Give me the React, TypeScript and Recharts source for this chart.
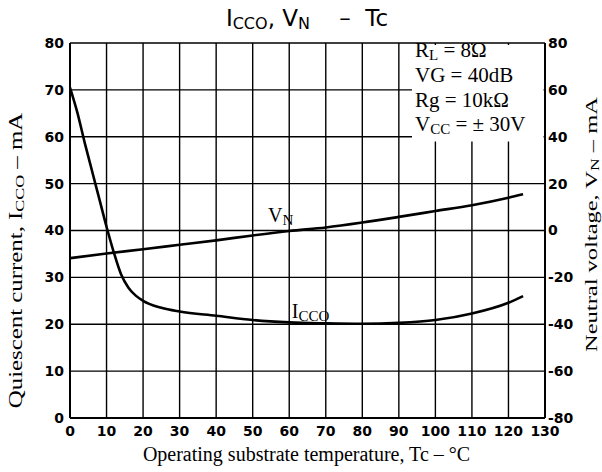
import {
  LineChart,
  Line,
  XAxis,
  YAxis,
  CartesianGrid,
  ReferenceArea,
  ReferenceDot,
  Label,
} from "recharts";

// ticks
const TEMP_TICKS = [0, 10, 20, 30, 40, 50, 60, 70, 80, 90, 100, 110, 120, 130];
const ICCO_TICKS = [0, 10, 20, 30, 40, 50, 60, 70, 80];
const VN_TICKS = [-80, -60, -40, -20, 0, 20, 40, 60, 80];

// quiescent current, mA (left axis)
const ICCO_TEMP = [0, 2, 4, 6, 8, 10, 12, 14, 16, 18, 20, 25, 30, 40, 50, 60, 70, 80, 90, 100, 110, 120, 124];
const ICCO_MA = [70.5, 65.2, 58.8, 52.8, 46.8, 40.8, 35.3, 30.6, 27.8, 26.1, 25.0, 23.5, 22.7, 21.8, 20.9, 20.4, 20.2, 20.1, 20.3, 20.9, 22.3, 24.6, 26.0];

// neutral voltage (right axis)
const VN_TEMP = [0, 10, 20, 30, 40, 50, 60, 70, 80, 90, 100, 110, 120, 124];
const VN_VALUES = [-11.8, -9.8, -8.0, -6.1, -4.2, -2.1, -0.2, 1.3, 3.4, 5.8, 8.3, 10.8, 14.0, 15.5];

const CONDITIONS = [
  { main: "R", sub: "L", rest: " = 8Ω" },
  { main: "VG = 40dB", sub: "", rest: "" },
  { main: "Rg = 10kΩ", sub: "", rest: "" },
  { main: "V", sub: "CC", rest: " = ± 30V" },
];

const iccoData = ICCO_TEMP.map((t, i) => ({ t, icco: ICCO_MA[i] }));
const vnData = VN_TEMP.map((t, i) => ({ t, vn: VN_VALUES[i] }));

const SERIF = "'Liberation Serif', 'DejaVu Serif', serif";
const SANS = "'DejaVu Sans', sans-serif";

const tickStyle = { fontFamily: SANS, fontSize: 14, fontWeight: "bold", fill: "#000" };
const axisLine = { stroke: "#000", strokeWidth: 2 };

// the scan is stretched along the vertical titles, so stretch them the same way
function VerticalTitle({ x, y, stretch, size, main, sub }: any) {
  return (
    <text
      transform={`translate(${x} ${y}) rotate(-90) scale(${stretch} 1)`}
      x={0}
      y={0}
      textAnchor="middle"
      dominantBaseline="central"
      fontFamily={SERIF}
      fontSize={size}
      fill="#000"
    >
      {main}
      <tspan fontSize={size * 0.72} dy={3}>
        {sub}
      </tspan>
      <tspan dy={-3}> – mA</tspan>
    </text>
  );
}

function LeftTitle(props: any) {
  const { viewBox } = props;
  return (
    <VerticalTitle
      x={viewBox.x + 16}
      y={viewBox.y + viewBox.height / 2 + 30}
      stretch={1.38}
      size={18}
      main="Quiescent current, I"
      sub="CCO"
    />
  );
}

function RightTitle(props: any) {
  const { viewBox } = props;
  return (
    <VerticalTitle
      x={viewBox.x + 46}
      y={viewBox.y + viewBox.height / 2 - 6}
      stretch={1.44}
      size={17}
      main="Neutral voltage, V"
      sub="N"
    />
  );
}

function BottomTitle(props: any) {
  const { viewBox } = props;
  return (
    <text
      x={viewBox.x + viewBox.width / 2 - 1}
      y={viewBox.y + 43}
      textAnchor="middle"
      fontFamily={SERIF}
      fontSize={20}
      fill="#000"
    >
      Operating substrate temperature, Tc – °C
    </text>
  );
}

function ConditionsBox(props: any) {
  const { viewBox } = props;
  return (
    <g>
      {CONDITIONS.map((c, i) => (
        <text
          key={i}
          x={viewBox.x + 3}
          y={viewBox.y + 12.5 + i * 24.7}
          fontFamily={SERIF}
          fontSize={21}
          fill="#000"
        >
          {c.main}
          {c.sub && (
            <tspan fontSize={15} dy={3}>
              {c.sub}
            </tspan>
          )}
          {c.rest && <tspan dy={c.sub ? -3 : 0}>{c.rest}</tspan>}
        </text>
      ))}
    </g>
  );
}

function CurveLabel(props: any) {
  const { viewBox, main, sub } = props;
  return (
    <text x={viewBox.x} y={viewBox.y} fontFamily={SERIF} fontSize={20} fill="#000">
      {main}
      <tspan fontSize={15} dy={3}>
        {sub}
      </tspan>
    </text>
  );
}

export default function App() {
  return (
    <div style={{ position: "absolute", left: 0, top: 0, width: 602, height: 472, background: "#fff" }}>
      <div
        style={{
          position: "absolute",
          left: 0,
          top: 4,
          width: 614,
          textAlign: "center",
          fontFamily: SANS,
          fontSize: 23,
          lineHeight: "28px",
          color: "#000",
          whiteSpace: "pre",
        }}
      >
        I<span style={{ fontSize: 16, position: "relative", top: 3 }}>CCO</span>, V
        <span style={{ fontSize: 16, position: "relative", top: 3 }}>N</span>
        {"    –  Tc"}
      </div>
      <LineChart
        width={602}
        height={472}
        margin={{ top: 43, right: 0, bottom: 0, left: 0 }}
        style={{ position: "absolute", left: 0, top: 0 }}
      >
        <CartesianGrid stroke="#000" strokeWidth={1.4} />
        <XAxis
          type="number"
          dataKey="t"
          domain={[0, 130]}
          ticks={TEMP_TICKS}
          interval={0}
          height={54}
          tick={tickStyle}
          tickLine={false}
          tickSize={0}
          tickMargin={8}
          axisLine={axisLine}
          allowDataOverflow
        >
          <Label content={<BottomTitle />} />
        </XAxis>
        <YAxis
          domain={[0, 80]}
          ticks={ICCO_TICKS}
          interval={0}
          width={70}
          tick={tickStyle}
          tickLine={false}
          tickSize={0}
          tickMargin={6}
          axisLine={axisLine}
          allowDataOverflow
        >
          <Label content={<LeftTitle />} />
        </YAxis>
        <YAxis
          yAxisId="right"
          orientation="right"
          domain={[-80, 80]}
          ticks={VN_TICKS}
          interval={0}
          width={57}
          tick={{ ...tickStyle, textAnchor: "start" }}
          tickLine={false}
          tickSize={0}
          tickMargin={3}
          axisLine={axisLine}
          allowDataOverflow
        >
          <Label content={<RightTitle />} />
        </YAxis>
        <ReferenceArea
          x1={93.6}
          x2={129.6}
          y1={59}
          y2={79.6}
          fill="#fff"
          fillOpacity={1}
          stroke="none"
          label={<ConditionsBox />}
        />
        <Line
          data={iccoData}
          dataKey="icco"
          type="monotone"
          stroke="#000"
          strokeWidth={2.6}
          dot={false}
          isAnimationActive={false}
        />
        <Line
          data={vnData}
          dataKey="vn"
          yAxisId="right"
          type="monotone"
          stroke="#000"
          strokeWidth={2.6}
          dot={false}
          isAnimationActive={false}
        />
        <ReferenceDot x={54.2} y={41.8} r={0} fill="none" stroke="none" label={<CurveLabel main="V" sub="N" />} />
        <ReferenceDot x={60.7} y={21.4} r={0} fill="none" stroke="none" label={<CurveLabel main="I" sub="CCO" />} />
      </LineChart>
    </div>
  );
}
